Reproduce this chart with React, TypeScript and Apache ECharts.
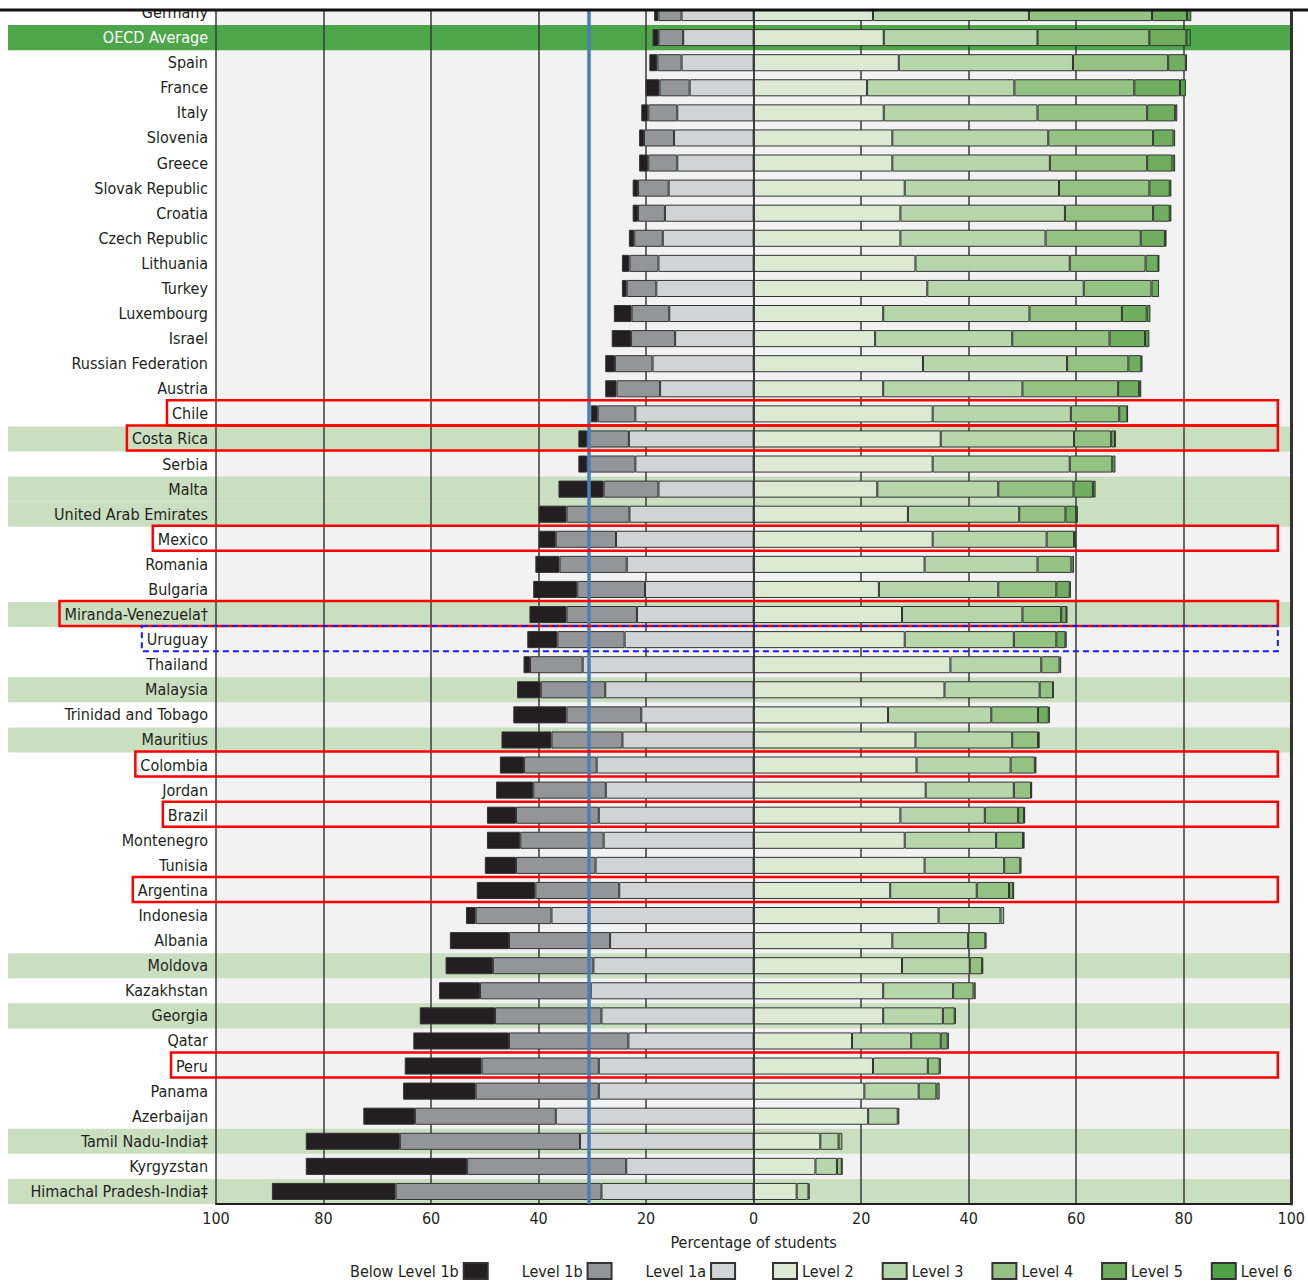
import React, { useEffect, useRef } from "react";
import * as echarts from "echarts";

const countries = [
  "Germany", "OECD Average", "Spain", "France", "Italy", "Slovenia", "Greece", "Slovak Republic",
  "Croatia", "Czech Republic", "Lithuania", "Turkey", "Luxembourg", "Israel", "Russian Federation",
  "Austria", "Chile", "Costa Rica", "Serbia", "Malta", "United Arab Emirates", "Mexico", "Romania",
  "Bulgaria", "Miranda-Venezuela†", "Uruguay", "Thailand", "Malaysia", "Trinidad and Tobago",
  "Mauritius", "Colombia", "Jordan", "Brazil", "Montenegro", "Tunisia", "Argentina", "Indonesia",
  "Albania", "Moldova", "Kazakhstan", "Georgia", "Qatar", "Peru", "Panama", "Azerbaijan",
  "Tamil Nadu-India‡", "Kyrgyzstan", "Himachal Pradesh-India‡",
];

const belowLevel1b = [0.8, 1.1, 1.5, 2.6, 1.3, 0.9, 1.7, 1.0, 1.0, 1.0, 1.4, 0.9, 3.3, 3.6, 1.8, 2.1, 1.3, 1.6, 1.6, 8.4, 5.2, 3.2, 4.5, 8.2, 6.9, 5.6, 1.2, 4.4, 9.9, 9.3, 4.5, 6.9, 5.4, 6.2, 5.8, 10.9, 1.8, 11.0, 8.8, 7.6, 14.0, 17.8, 14.3, 13.5, 9.6, 17.5, 30.0, 23.0];
const level1b = [4.3, 4.6, 4.5, 5.6, 5.4, 5.6, 5.4, 5.7, 5.0, 5.3, 5.4, 5.5, 7.0, 8.2, 7.0, 8.1, 7.0, 7.8, 9.0, 10.2, 11.7, 11.2, 12.5, 12.6, 13.1, 12.5, 9.8, 12.0, 13.9, 13.2, 13.5, 13.5, 15.4, 15.5, 14.8, 15.6, 14.1, 18.8, 18.7, 20.6, 19.8, 22.2, 21.8, 22.9, 26.2, 33.5, 29.6, 38.3];
const level1a = [13.4, 13.1, 13.4, 11.9, 14.2, 14.8, 14.2, 15.8, 16.5, 16.9, 17.7, 18.1, 15.7, 14.6, 18.8, 17.4, 22.0, 23.2, 22.0, 17.7, 23.1, 25.6, 23.6, 20.2, 21.7, 24.0, 31.8, 27.6, 20.9, 24.4, 29.2, 27.5, 28.8, 27.9, 29.4, 25.0, 37.6, 26.7, 29.8, 30.3, 28.3, 23.3, 28.8, 28.8, 36.8, 32.3, 23.7, 28.3];
const level2 = [22.2, 24.2, 27.0, 21.1, 24.2, 25.8, 25.8, 28.1, 27.3, 27.3, 30.1, 32.3, 24.1, 22.6, 31.5, 24.1, 33.3, 34.8, 33.3, 23.0, 28.7, 33.3, 31.8, 23.3, 27.6, 28.1, 36.6, 35.5, 25.0, 30.1, 30.3, 32.0, 27.3, 28.1, 31.8, 25.4, 34.4, 25.8, 27.6, 24.1, 24.1, 18.3, 22.2, 20.6, 21.3, 12.4, 11.5, 8.0];
const level3 = [29.0, 28.6, 32.4, 27.4, 28.6, 29.0, 29.3, 28.7, 30.6, 27.0, 28.7, 29.1, 27.2, 25.5, 26.8, 25.9, 25.7, 24.8, 25.5, 22.5, 20.7, 21.2, 21.0, 22.2, 22.4, 20.3, 16.9, 17.7, 19.2, 18.0, 17.5, 16.4, 15.7, 17.0, 14.8, 16.1, 11.5, 14.1, 12.6, 13.0, 11.1, 11.0, 10.2, 10.1, 5.5, 3.4, 4.0, 2.2];
const level4 = [22.9, 20.8, 17.7, 22.3, 20.4, 19.5, 18.1, 16.8, 16.4, 17.7, 14.1, 12.6, 17.2, 18.1, 11.4, 17.8, 9.0, 6.9, 7.9, 14.0, 8.6, 5.1, 6.3, 10.8, 7.2, 7.9, 3.4, 2.5, 8.7, 4.8, 4.5, 3.2, 6.2, 5.0, 3.0, 6.0, 0.7, 3.2, 2.3, 3.8, 2.2, 5.5, 2.2, 3.3, 0.3, 0.7, 0.9, 0.2];
const level5 = [6.5, 6.9, 3.3, 8.5, 5.2, 3.8, 4.7, 3.8, 3.1, 4.5, 2.4, 1.4, 4.6, 6.6, 2.4, 3.9, 1.5, 0.7, 0.6, 3.6, 2.0, 0.4, 0.5, 2.5, 1.0, 1.7, 0.3, 0.1, 2.0, 0.3, 0.3, 0.2, 1.1, 0.3, 0.2, 0.8, 0.0, 0.2, 0.2, 0.4, 0.2, 1.3, 0.2, 0.6, 0.0, 0.0, 0.1, 0.0];
const level6 = [0.8, 0.8, 0.2, 1.1, 0.4, 0.3, 0.5, 0.3, 0.3, 0.3, 0.1, 0.0, 0.7, 0.8, 0.2, 0.4, 0.1, 0.1, 0.0, 0.5, 0.3, 0.0, 0.0, 0.2, 0.1, 0.2, 0.0, 0.0, 0.2, 0.0, 0.0, 0.0, 0.2, 0.0, 0.0, 0.1, 0.0, 0.0, 0.0, 0.0, 0.0, 0.2, 0.0, 0.0, 0.0, 0.0, 0.0, 0.0];

const averageRow = "OECD Average";
const highlightedRows = [
  "Costa Rica", "Malta", "United Arab Emirates", "Miranda-Venezuela†", "Malaysia", "Mauritius",
  "Moldova", "Georgia", "Tamil Nadu-India‡", "Himachal Pradesh-India‡",
];
const redBoxRows = ["Chile", "Costa Rica", "Mexico", "Miranda-Venezuela†", "Colombia", "Brazil", "Argentina", "Peru"];
const dashedBoxRows = ["Uruguay"];
const referenceValue = -30.6;
const xTickValues = [-100, 100, 20];

const levelNames = ["Below Level 1b", "Level 1b", "Level 1a", "Level 2", "Level 3", "Level 4", "Level 5", "Level 6"];
const levelColors = ["#231f20", "#939598", "#d1d3d4", "#dce9d3", "#b8d6ab", "#94c283", "#6fae5f", "#4ea345"];

const FONT = "'Liberation Sans Narrow', 'Arial Narrow', 'DejaVu Sans Condensed', sans-serif";
const FS = 16;
const TEXT = "#231f20";

export default function App() {
  const ref = useRef<HTMLDivElement>(null);
  useEffect(() => {
    if (!ref.current) return;
    const chart = echarts.init(ref.current, null, { renderer: "svg" });

    const canvas = document.createElement("canvas");
    const ctx = canvas.getContext("2d")!;
    ctx.font = `${FS}px ${FONT}`;
    const textW = countries.map((c) => ctx.measureText(c).width);

    const gridLeft = 216;
    const labelMargin = 8;

    const clean = (arr: number[], neg: boolean) => arr.map((v) => (v === 0 ? "-" : neg ? -v : v));

    const barSeries = (idx: number, data: number[], neg: boolean, extra: any = {}) => ({
      name: levelNames[idx],
      type: "bar",
      stack: "pisa",
      xAxisIndex: 0,
      yAxisIndex: 0,
      barWidth: "68%",
      data: clean(data, neg),
      itemStyle: { color: levelColors[idx], borderColor: "#333", borderWidth: 1 },
      emphasis: { disabled: true },
      silent: true,
      z: 3,
      ...extra,
    });

    const boxSeries = (rows: string[], stroke: string, dashed: boolean) => ({
      type: "custom",
      xAxisIndex: 0,
      yAxisIndex: 0,
      silent: true,
      clip: false,
      z: 7,
      data: rows.map((r) => [97.5, countries.indexOf(r)]),
      encode: { x: 0, y: 1 },
      renderItem: (params: any, api: any) => {
        const idx = api.value(1);
        const p = api.coord([api.value(0), idx]);
        const h = api.size([0, 1])[1];
        const left = gridLeft - labelMargin - textW[idx] - 5;
        return {
          type: "rect",
          shape: { x: left, y: p[1] - h / 2 - 1, width: p[0] - left, height: h },
          style: {
            fill: "none",
            stroke,
            lineWidth: dashed ? 2 : 2.5,
            lineDash: dashed ? [6, 4] : null,
          },
        };
      },
    });

    const legendText = { fontSize: FS, color: TEXT, fontFamily: FONT };

    const option: any = {
      animation: false,
      textStyle: { fontFamily: FONT },
      grid: [
        { left: gridLeft, right: 15, top: 0, height: 1204, show: true, backgroundColor: "#f2f2f2", borderWidth: 0, z: 0 },
        { left: 8, right: 15, top: 0, height: 1204, show: false },
      ],
      xAxis: [
        {
          type: "value",
          gridIndex: 0,
          min: xTickValues[0],
          max: xTickValues[1],
          interval: xTickValues[2],
          position: "bottom",
          z: 2,
          axisLine: { show: true, lineStyle: { color: "#231f20", width: 2 } },
          axisTick: { show: false },
          axisLabel: {
            formatter: (v: number) => String(Math.abs(v)),
            fontSize: FS,
            color: TEXT,
            fontFamily: FONT,
            margin: 6,
          },
          splitLine: { show: true, lineStyle: { color: "#3a3a3a", width: 1.5 } },
          name: "Percentage of students",
          nameLocation: "middle",
          nameGap: 30,
          nameTextStyle: { fontSize: FS, color: TEXT, fontFamily: FONT },
        },
        { type: "value", gridIndex: 1, min: 0, max: 1, show: false },
      ],
      yAxis: [
        {
          type: "category",
          gridIndex: 0,
          data: countries,
          inverse: true,
          z: 4,
          axisTick: { show: false },
          axisLine: { show: true, lineStyle: { color: "#333", width: 1.5 } },
          axisLabel: {
            interval: 0,
            fontSize: FS,
            fontFamily: FONT,
            margin: labelMargin,
            color: (v: string) => (v === averageRow ? "#ffffff" : TEXT),
          },
        },
        {
          type: "category",
          gridIndex: 0,
          data: countries,
          inverse: true,
          position: "right",
          z: 4,
          axisTick: { show: false },
          axisLabel: { show: false },
          axisLine: { show: true, lineStyle: { color: "#333", width: 3 } },
        },
        { type: "category", gridIndex: 1, data: countries, inverse: true, show: false },
      ],
      legend: [
        {
          data: levelNames.slice(0, 3),
          left: 350,
          top: 1262,
          align: "right",
          icon: "rect",
          itemWidth: 24,
          itemHeight: 16,
          itemGap: 33,
          padding: 0,
          selectedMode: false,
          textStyle: legendText,
        },
        {
          data: levelNames.slice(3),
          left: 772,
          top: 1262,
          align: "left",
          icon: "rect",
          itemWidth: 24,
          itemHeight: 16,
          itemGap: 28,
          padding: 0,
          selectedMode: false,
          textStyle: legendText,
        },
      ],
      series: [
        {
          type: "bar",
          xAxisIndex: 1,
          yAxisIndex: 2,
          barWidth: "100%",
          silent: true,
          z: 1,
          data: countries.map((c) =>
            c === averageRow
              ? { value: 1, itemStyle: { color: "#4ea64a" } }
              : highlightedRows.includes(c)
              ? { value: 1, itemStyle: { color: "#c9dfc0" } }
              : "-"
          ),
        },
        barSeries(2, level1a, true, {
          markLine: {
            silent: true,
            symbol: "none",
            z: 6,
            label: { show: false },
            lineStyle: { color: "#4a7ebb", width: 3.5, type: "solid" },
            data: [{ xAxis: referenceValue }],
          },
        }),
        barSeries(1, level1b, true),
        barSeries(0, belowLevel1b, true),
        barSeries(3, level2, false),
        barSeries(4, level3, false),
        barSeries(5, level4, false),
        barSeries(6, level5, false),
        barSeries(7, level6, false),
        boxSeries(redBoxRows, "#ff0000", false),
        boxSeries(dashedBoxRows, "#1a1aff", true),
      ],
      graphic: [
        { type: "rect", z: 10, shape: { x: 0, y: 0, width: 1308, height: 9 }, style: { fill: "#ffffff" } },
        { type: "rect", z: 11, shape: { x: 0, y: 8.5, width: 1308, height: 3 }, style: { fill: "#111111" } },
      ],
    };

    chart.setOption(option);
    return () => chart.dispose();
  }, []);

  return (
    <div
      ref={ref}
      style={{ position: "absolute", left: 0, top: 0, width: 1308, height: 1282, background: "#ffffff" }}
    />
  );
}
